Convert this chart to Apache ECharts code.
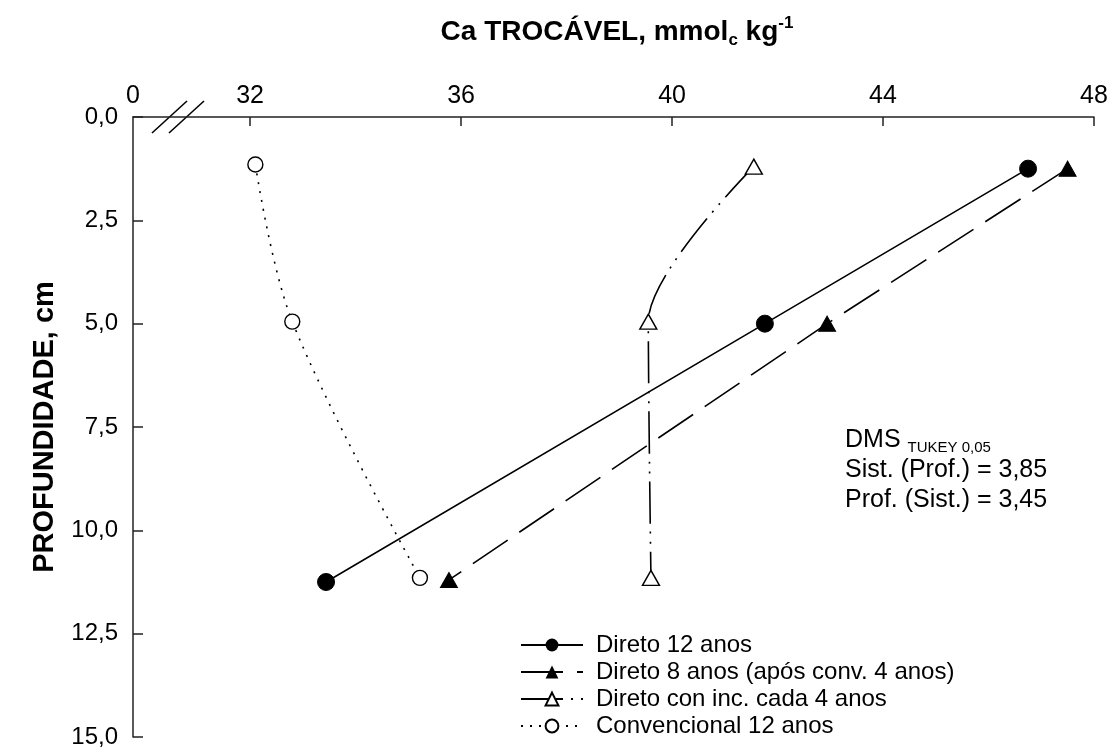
<!DOCTYPE html>
<html>
<head>
<meta charset="utf-8">
<title>Ca trocável</title>
<script src="https://cdn.jsdelivr.net/npm/echarts@6/dist/echarts.min.js"></script>
<style>
  html, body { margin: 0; padding: 0; background: #fff; }
  #chart { width: 1119px; height: 752px; }
</style>
</head>
<body>
<div id="chart"></div>
<script>
// eixo x quebrado: o "0" fica no inicio, depois 32..48
const xMin = 29.78
const xMax = 48
const xTicks = [32, 36, 40, 44, 48]
const yTicks = [0, 2.5, 5, 7.5, 10, 12.5, 15]

const seriesNames = [
  'Direto 12 anos',
  'Direto 8 anos (após conv. 4 anos)',
  'Direto con inc. cada 4 anos',
  'Convencional 12 anos'
]

// [Ca, profundidade]
const direto12 = [[46.75, 1.25], [41.76, 5.0], [33.44, 11.25]]
const direto8 = [[47.5, 1.25], [42.94, 5.0], [35.77, 11.2]]
const diretoInc = [[41.55, 1.2], [39.55, 4.95], [39.6, 11.15]]
const convencional = [[32.1, 1.15], [32.8, 4.95], [35.22, 11.15]]

const fontFamily = 'Arial, "Liberation Sans", sans-serif'
const black = '#000'

const chart = echarts.init(document.getElementById('chart'))

const commaFmt = v => v.toFixed(1).replace('.', ',')

chart.setOption({
  backgroundColor: '#fff',
  animation: false,
  textStyle: { fontFamily: fontFamily, color: black },
  title: {
    text: '{b|Ca TROCÁVEL, mmol}{sub|c}{b| kg}{sup|-1}',
    left: 612,
    textAlign: 'center',
    top: 10,
    textStyle: {
      rich: {
        b: { fontSize: 28, fontWeight: 'bold', fontFamily: fontFamily, color: black },
        sub: { fontSize: 17, fontWeight: 'bold', fontFamily: fontFamily, color: black, verticalAlign: 'bottom', padding: [17, 0, 0, 0] },
        sup: { fontSize: 17, fontWeight: 'bold', fontFamily: fontFamily, color: black, verticalAlign: 'top', padding: [0, 0, 15, 0] }
      }
    }
  },
  grid: {
    left: 133,
    right: 25,
    top: 117,
    bottom: 15
  },
  legend: {
    orient: 'vertical',
    left: 515,
    top: 628,
    itemWidth: 62,
    itemHeight: 16,
    itemGap: 3,
    data: seriesNames,
    textStyle: { fontSize: 24, fontFamily: fontFamily, color: black, padding: [0, 0, 0, 8] }
  },
  xAxis: {
    type: 'value',
    position: 'top',
    min: xMin,
    max: xMax,
    splitLine: { show: false },
    axisLine: { lineStyle: { color: '#222', width: 1.5 } },
    axisTick: {
      inside: true,
      length: 9,
      customValues: xTicks,
      lineStyle: { color: '#222', width: 1.5 }
    },
    axisLabel: {
      customValues: [xMin].concat(xTicks),
      margin: 8,
      fontSize: 25,
      color: black,
      formatter: v => (v === xMin ? '0' : String(v))
    }
  },
  yAxis: {
    type: 'value',
    inverse: true,
    min: 0,
    max: 15,
    interval: 2.5,
    name: 'PROFUNDIDADE, cm',
    nameLocation: 'middle',
    nameGap: 74,
    nameRotate: 90,
    nameTextStyle: { fontSize: 29, fontWeight: 'bold', color: black },
    splitLine: { show: false },
    axisLine: { lineStyle: { color: '#222', width: 1.5 } },
    axisTick: { inside: true, length: 10, lineStyle: { color: '#222', width: 1.5 } },
    axisLabel: {
      margin: 15,
      fontSize: 24,
      color: black,
      formatter: commaFmt
    }
  },
  series: [
    {
      name: seriesNames[0],
      type: 'line',
      data: direto12,
      symbol: 'circle',
      symbolSize: 17,
      itemStyle: { color: black, borderColor: black },
      lineStyle: { color: black, width: 1.6, type: 'solid' }
    },
    {
      name: seriesNames[1],
      type: 'line',
      data: direto8,
      symbol: 'triangle',
      symbolSize: [17, 15],
      itemStyle: { color: black, borderColor: black },
      lineStyle: { color: black, width: 1.6, type: [42, 14] }
    },
    {
      name: seriesNames[2],
      type: 'line',
      data: diretoInc,
      smooth: 0.28,
      symbol: 'triangle',
      symbolSize: [17, 15],
      itemStyle: { color: '#fff', borderColor: black, borderWidth: 1.4 },
      lineStyle: { color: black, width: 1.6, type: [42, 8, 2, 8, 2, 8] }
    },
    {
      name: seriesNames[3],
      type: 'line',
      data: convencional,
      smooth: 0.35,
      symbol: 'circle',
      symbolSize: 15,
      itemStyle: { color: '#fff', borderColor: black, borderWidth: 1.4 },
      lineStyle: { color: black, width: 1.6, type: [2, 7] }
    }
  ]
})

// quebra do eixo (//) e texto da DMS
const origin = chart.convertToPixel({ xAxisIndex: 0, yAxisIndex: 0 }, [xMin, 0])
const ox = origin[0]
const oy = origin[1]
const slash = dx => ({
  type: 'line',
  shape: { x1: ox + dx, y1: oy + 16, x2: ox + dx + 35, y2: oy - 16 },
  style: { stroke: black, lineWidth: 1.6 }
})

chart.setOption({
  graphic: [
    slash(19),
    slash(36),
    {
      type: 'text',
      left: 845,
      top: 428,
      style: {
        text: '{a|DMS }{s|TUKEY 0,05}\n{a|Sist. (Prof.) = 3,85}\n{a|Prof. (Sist.) = 3,45}',
        rich: {
          a: { fontSize: 25, fontFamily: fontFamily, fill: black, lineHeight: 30 },
          s: { fontSize: 15, fontFamily: fontFamily, fill: black, verticalAlign: 'bottom', padding: [10, 0, 0, 0] }
        }
      }
    }
  ]
})
</script>
</body>
</html>
